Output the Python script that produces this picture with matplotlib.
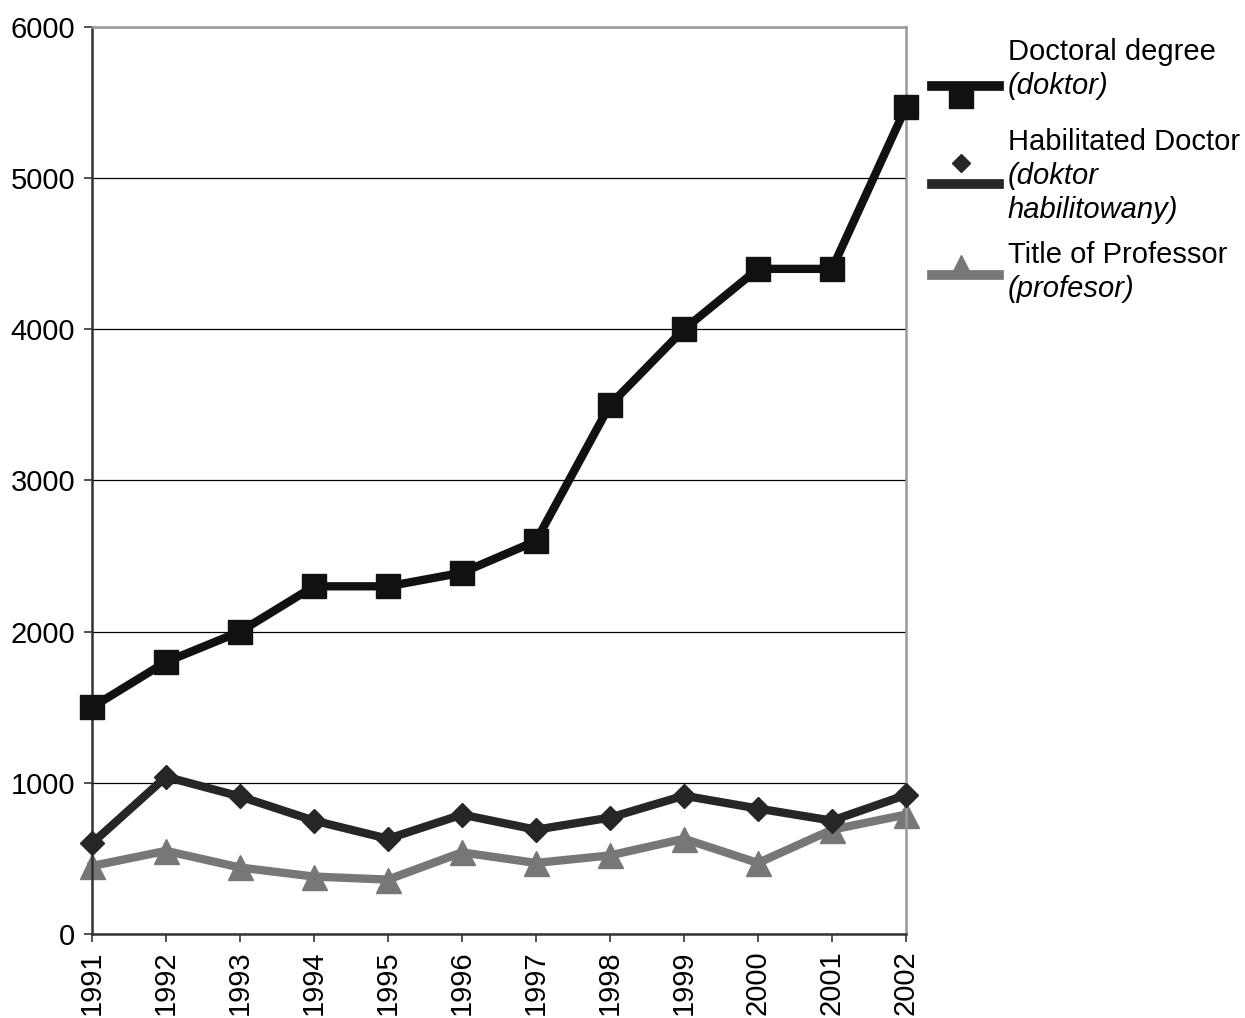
import matplotlib
matplotlib.use("Agg")
from matplotlib import pyplot as plt
from matplotlib.lines import Line2D

plt.rcParams['font.family'] = ['Liberation Sans', 'DejaVu Sans']

years = [1991, 1992, 1993, 1994, 1995, 1996, 1997, 1998, 1999, 2000, 2001, 2002]
doktor = [1500, 1800, 2000, 2300, 2300, 2390, 2600, 3500, 4000, 4400, 4400, 5470]
habilitowany = [600, 1040, 910, 750, 630, 790, 690, 770, 915, 830, 750, 920]
profesor = [450, 550, 440, 380, 360, 540, 470, 520, 630, 470, 690, 790]

fig = plt.figure(figsize=(12.45, 10.18), dpi=100)
ax = fig.add_axes([0.0739, 0.0825, 0.6538, 0.891])

ax.plot(years, doktor, color='#111111', lw=6, marker='s', ms=17, zorder=4, clip_on=False)
ax.plot(years, habilitowany, color='#262626', lw=6, marker='D', ms=12, zorder=3, clip_on=False)
ax.plot(years, profesor, color='#777777', lw=6, marker='^', ms=18, zorder=2, clip_on=False)

ax.set_xlim(1991, 2002)
ax.set_ylim(0, 6000)
ax.set_yticks(range(0, 6001, 1000))
ax.set_xticks(years)
ax.set_xticklabels([str(y) for y in years], rotation=90)
ax.tick_params(labelsize=21, length=6, width=1.2, color='#333333', pad=6)
ax.grid(axis='y', color='#000000', lw=0.9)
ax.set_axisbelow(True)

for s in ['left', 'bottom']:
    ax.spines[s].set_color('#333333')
    ax.spines[s].set_linewidth(1.8)
for s in ['top', 'right']:
    ax.spines[s].set_color('#999999')
    ax.spines[s].set_linewidth(1.8)

# legend drawn by hand: line sample, offset marker, two-style label
W, H = 1245, 1018

def fx(px):
    return px / W

def fy(py):
    return 1 - py / H

entries = [
    ('#111111', 's', 17, 86, 96, ['Doctoral degree', '(doktor)']),
    ('#262626', 'D', 9, 184, 163, ['Habilitated Doctor', '(doktor', 'habilitowany)']),
    ('#777777', '^', 16, 275, 266, ['Title of Professor', '(profesor)']),
]
text_top = [52, 142, 255]
for (col, mk, ms, ly, my, lines), ty in zip(entries, text_top):
    fig.add_artist(Line2D([fx(932), fx(999)], [fy(ly), fy(ly)], color=col, lw=7,
                          transform=fig.transFigure))
    fig.add_artist(Line2D([fx(961)], [fy(my)], color=col, marker=mk, ms=ms, lw=0,
                          transform=fig.transFigure))
    for i, t in enumerate(lines):
        fig.text(fx(1008), fy(ty + i * 34), t, fontsize=21, va='center', ha='left',
                 style='normal' if i == 0 else 'italic')

fig.savefig('out.png', dpi=100)
